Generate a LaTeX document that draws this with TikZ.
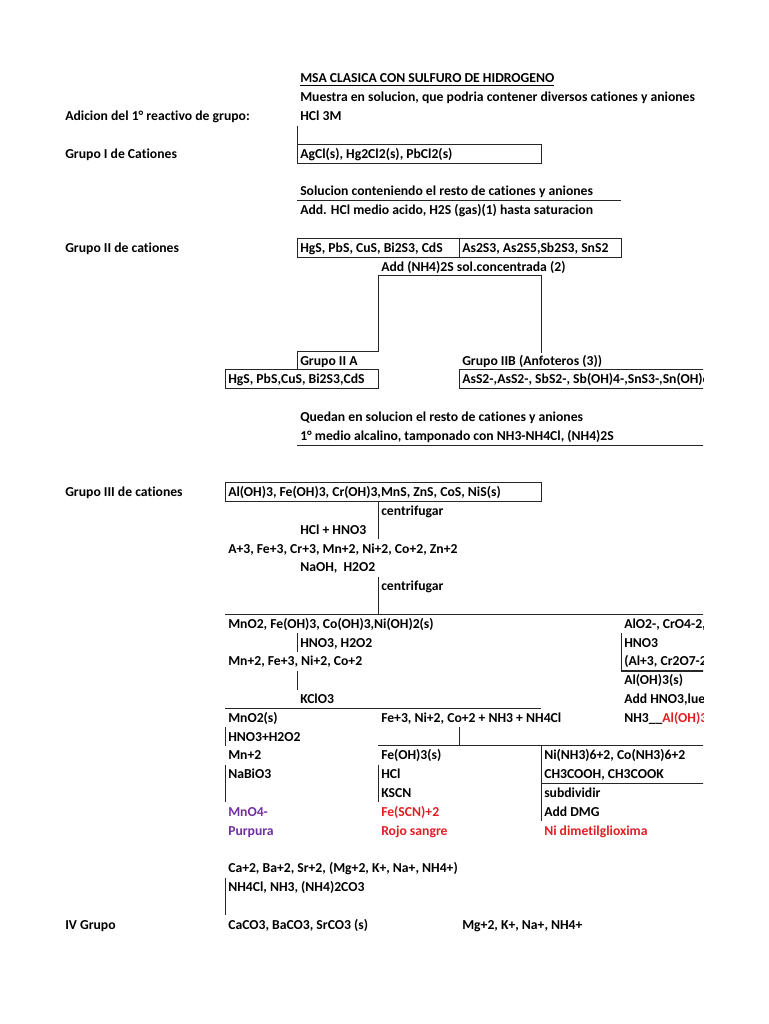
\documentclass[tikz,border=0pt]{standalone}
\usepackage{fontspec}
\setmainfont{Carlito}[Ligatures={NoCommon}]
\definecolor{xred}{RGB}{226,30,36}
\definecolor{xpurple}{RGB}{112,48,160}
\begin{document}
\begin{tikzpicture}[x=0.75pt,y=-0.75pt,
  txt/.style={anchor=base west,inner sep=0pt,font=\fontsize{10.25}{12}\selectfont\bfseries},
  bd/.style={line width=0.65pt,draw=black!85},
  tbd/.style={line width=1.4pt,draw=black!85}]
\useasboundingbox (0,0) rectangle (768,1024);
\fill[white] (0,0) rectangle (768,1024);
\begin{scope}
\clip (0,0) rectangle (703,1024);
% ---------- left labels
\node[txt] (lab1) at (65,120.6) {Adicion del 1° reactivo de grupo:};
\node[txt] (lab2) at (65,158.2) {Grupo I de Cationes};
\node[txt] (lab3) at (65,252.2) {Grupo II de cationes};
\node[txt] (lab4) at (65,496.6) {Grupo III de cationes};
\node[txt] (lab5) at (65,929) {IV Grupo};
% ---------- top
\node[txt] (title) at (300,83) {\underline{MSA CLASICA CON SULFURO DE HIDROGENO}};
\node[txt] (muestra) at (300,101.8) {Muestra en solucion, que podria contener diversos cationes y aniones};
\node[txt] (hcl) at (300,120.6) {HCl 3M};
\draw[bd] (297,125.5) -- (297,144.3);
\draw[bd] (297,144.3) rectangle (541,163.1);
\node[txt] (g1) at (300,158.2) {AgCl(s), Hg2Cl2(s), PbCl2(s)};
% ---------- group II
\node[txt] (resto) at (300,195.8) {Solucion conteniendo el resto de cationes y aniones};
\draw[bd] (297,200.7) -- (621,200.7);
\node[txt] (addhcl) at (300,214.6) {Add. HCl medio acido, H2S (gas)(1) hasta saturacion};
\draw[bd] (297,238.3) rectangle (621,257.1);
\draw[bd] (459,238.3) -- (459,257.1);
\node[txt] (g2a) at (300,252.2) {HgS, PbS, CuS, Bi2S3, CdS};
\node[txt] (g2b) at (462,252.2) {As2S3, As2S5,Sb2S3, SnS2};
\node[txt] (nh4s) at (381,271) {Add (NH4)2S sol.concentrada (2)};
\draw[bd] (297,369.9) -- (297,351.1) -- (378,351.1) -- (378,275.9) -- (541,275.9) -- (541,353);
\node[txt] (gIIA) at (300,365) {Grupo II A};
\node[txt] (gIIB) at (462,365) {Grupo IIB (Anfoteros (3))};
\draw[bd] (225,369.9) rectangle (378,388.7);
\node[txt] (sA) at (228,383.8) {HgS, PbS,CuS, Bi2S3,CdS};
\draw[bd] (710,369.9) -- (459,369.9) -- (459,388.7) -- (710,388.7);
\node[txt] (sB) at (462,383.8) {AsS2-,AsS2-, SbS2-, Sb(OH)4-,SnS3-,Sn(OH)6};
% ---------- group III
\node[txt] (quedan) at (300,421.4) {Quedan en solucion el resto de cationes y aniones};
\node[txt] (medio) at (300,440.2) {1° medio alcalino, tamponado con NH3-NH4Cl, (NH4)2S};
\draw[bd] (297,445.1) -- (710,445.1);
\draw[bd] (225,482.7) rectangle (541,501.5);
\node[txt] (g3) at (228,496.6) {Al(OH)3, Fe(OH)3, Cr(OH)3,MnS, ZnS, CoS, NiS(s)};
\draw[bd] (378,501.5) -- (378,539.1);
\node[txt] (cen1) at (381,515.4) {centrifugar};
\node[txt] (hclhno3) at (300,534.2) {HCl + HNO3};
\node[txt] (ions) at (228,553) {A+3, Fe+3, Cr+3, Mn+2, Ni+2, Co+2, Zn+2};
\node[txt] (naoh) at (300,571.8) {NaOH,\ \ H2O2};
\draw[bd] (378,576.7) -- (378,614.3);
\node[txt] (cen2) at (381,590.6) {centrifugar};
\draw[bd] (225,614.3) -- (710,614.3);
% left branch
\node[txt] (mno2) at (228,628.2) {MnO2, Fe(OH)3, Co(OH)3,Ni(OH)2(s)};
\draw[bd] (297,633.1) -- (297,651.9);
\node[txt] (hno3h2o2) at (300,647) {HNO3, H2O2};
\node[txt] (mnfe) at (228,665.8) {Mn+2, Fe+3, Ni+2, Co+2};
\draw[bd] (297,670.7) -- (297,689.5);
\node[txt] (kclo3) at (300,703.4) {KClO3};
\draw[bd] (225,708.3) -- (541,708.3);
\node[txt] (mno2s) at (228,722.2) {MnO2(s)};
\draw[bd] (225,727.1) -- (225,745.9);
\node[txt] (hno3p) at (228,741) {HNO3+H2O2};
\node[txt] (mn2) at (228,759.8) {Mn+2};
\draw[bd] (225,764.7) -- (225,802.3);
\node[txt] (nabio3) at (228,778.6) {NaBiO3};
\node[txt,text=xpurple] (mno4) at (228,816.2) {MnO4-};
\node[txt,text=xpurple] (purp) at (228,835) {Purpura};
% middle branch
\node[txt] (fenico) at (381,722.2) {Fe+3, Ni+2, Co+2 + NH3 + NH4Cl};
\draw[bd] (459,727.1) -- (459,745.9);
\draw[bd] (378,745.9) -- (710,745.9);
\node[txt] (feoh) at (381,759.8) {Fe(OH)3(s)};
\draw[bd] (378,764.7) -- (378,802.3);
\node[txt] (hclm) at (381,778.6) {HCl};
\node[txt] (kscn) at (381,797.4) {KSCN};
\node[txt,text=xred] (fescn) at (381,816.2) {Fe(SCN)+2};
\node[txt,text=xred] (rojo) at (381,835) {Rojo sangre};
% Ni/Co branch
\draw[bd] (541,745.9) -- (541,821.1);
\node[txt] (nico) at (544,759.8) {Ni(NH3)6+2, Co(NH3)6+2};
\node[txt] (ch3) at (544,778.6) {CH3COOH, CH3COOK};
\draw[tbd] (541,783.5) -- (710,783.5);
\node[txt] (subd) at (544,797.4) {subdividir};
\node[txt] (dmg) at (544,816.2) {Add DMG};
\node[txt,text=xred] (nidmg) at (544,835) {Ni dimetilglioxima};
% right branch
\node[txt] (alo2) at (624,628.2) {AlO2-, CrO4-2,};
\draw[bd] (621,633.1) -- (621,670.7);
\node[txt] (hno3r) at (624,647) {HNO3};
\node[txt] (alcr) at (624,665.8) {(Al+3, Cr2O7-2};
\draw[tbd] (621,670.7) -- (710,670.7);
\node[txt] (aloh) at (624,684.6) {Al(OH)3(s)};
\node[txt] (addhno3) at (624,703.4) {Add HNO3,lue};
\node[txt] (nh3al) at (624,722.2) {NH3\_\_\textcolor{xred}{Al(OH)3}};
% ---------- group IV
\node[txt] (ca) at (228,872.6) {Ca+2, Ba+2, Sr+2, (Mg+2, K+, Na+, NH4+)};
\draw[bd] (225,877.5) -- (225,915.1);
\node[txt] (nh4cl) at (228,891.4) {NH4Cl, NH3, (NH4)2CO3};
\node[txt] (caco3) at (228,929) {CaCO3, BaCO3, SrCO3 (s)};
\node[txt] (mg) at (462,929) {Mg+2, K+, Na+, NH4+};
\end{scope}
\end{tikzpicture}
\end{document}
